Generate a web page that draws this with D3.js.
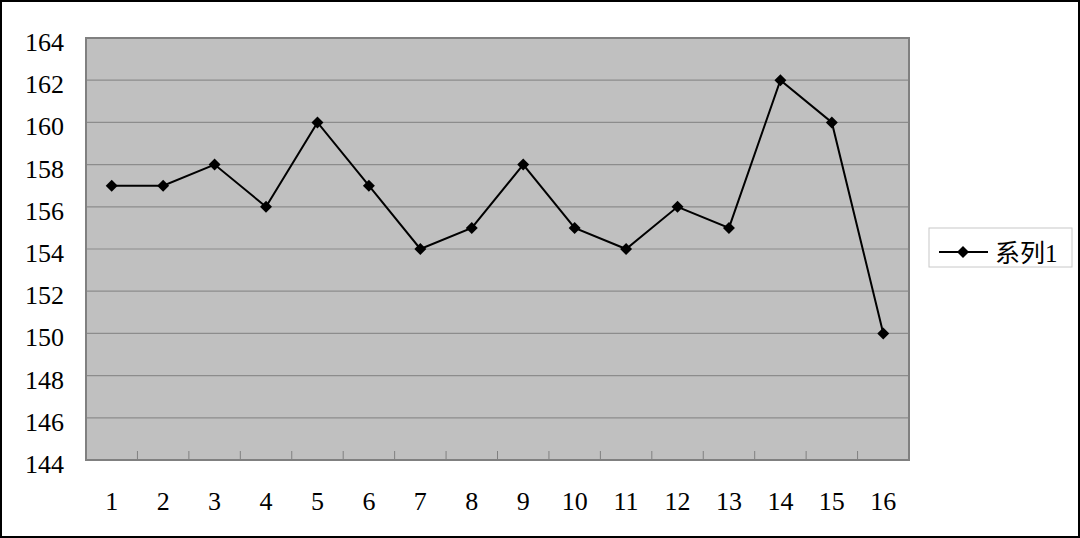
<!DOCTYPE html>
<html lang="en">
<head>
   <meta charset="UTF-8">
   <title>系列1</title>
   <script src="https://d3js.org/d3.v7.min.js"></script>
   <style>
        body { margin: 0; background: #fff; }
    </style>
</head>
<body>
    <div id="chart"></div>
    <script>
        // Data
        const categories = ["1","2","3","4","5","6","7","8","9","10","11","12","13","14","15","16"];
        const values = [157, 157, 158, 156, 160, 157, 154, 155, 158, 155, 154, 156, 155, 162, 160, 150];
        const yTicks = [144, 146, 148, 150, 152, 154, 156, 158, 160, 162, 164];
        const seriesName = "系列1";

        const serif = "'Liberation Serif', 'Times New Roman', serif";
        const cjk = "'Noto Sans CJK SC', sans-serif";

        const width = 1080;
        const height = 538;
        const plot = { left: 86, right: 909, top: 38, bottom: 460 };

        const svg = d3.select("#chart")
            .append("svg")
            .attr("width", width)
            .attr("height", height);

        // outer frame
        svg.append("rect")
            .attr("x", 1).attr("y", 1)
            .attr("width", width - 2).attr("height", height - 2)
            .attr("fill", "#fff")
            .attr("stroke", "#000")
            .attr("stroke-width", 2);

        const x = d3.scaleBand()
            .domain(categories)
            .range([plot.left, plot.right]);

        const y = d3.scaleLinear()
            .domain([144, 164])
            .range([plot.bottom, plot.top]);

        // plot area
        svg.append("rect")
            .attr("x", plot.left).attr("y", plot.top)
            .attr("width", plot.right - plot.left)
            .attr("height", plot.bottom - plot.top)
            .attr("fill", "#c0c0c0");

        // gridlines
        svg.selectAll(".grid")
            .data(yTicks)
            .enter()
            .append("line")
            .attr("x1", plot.left).attr("x2", plot.right)
            .attr("y1", d => y(d)).attr("y2", d => y(d))
            .attr("stroke", "#8c8c8c")
            .attr("stroke-width", 1.2);

        // plot border
        svg.append("rect")
            .attr("x", plot.left).attr("y", plot.top)
            .attr("width", plot.right - plot.left)
            .attr("height", plot.bottom - plot.top)
            .attr("fill", "none")
            .attr("stroke", "#808080")
            .attr("stroke-width", 2);

        // x tick marks at category boundaries
        svg.selectAll(".xtick")
            .data(categories.slice(1))
            .enter()
            .append("line")
            .attr("x1", d => x(d)).attr("x2", d => x(d))
            .attr("y1", plot.bottom).attr("y2", plot.bottom - 9)
            .attr("stroke", "#808080")
            .attr("stroke-width", 1);

        // y labels
        svg.selectAll(".ylab")
            .data(yTicks)
            .enter()
            .append("text")
            .attr("x", 64)
            .attr("y", d => y(d) + 13)
            .attr("text-anchor", "end")
            .attr("font-family", serif)
            .attr("font-size", 26)
            .attr("fill", "#000")
            .text(d => d);

        // x labels
        svg.selectAll(".xlab")
            .data(categories)
            .enter()
            .append("text")
            .attr("x", d => x(d) + x.bandwidth() / 2)
            .attr("y", 510)
            .attr("text-anchor", "middle")
            .attr("font-family", serif)
            .attr("font-size", 26)
            .attr("fill", "#000")
            .text(d => d);

        // series line
        const line = d3.line()
            .x((d, i) => x(categories[i]) + x.bandwidth() / 2)
            .y(d => y(d));

        svg.append("path")
            .datum(values)
            .attr("d", line)
            .attr("fill", "none")
            .attr("stroke", "#000")
            .attr("stroke-width", 2);

        const diamond = d3.symbol().type(d3.symbolSquare).size(72);

        svg.selectAll(".marker")
            .data(values)
            .enter()
            .append("path")
            .attr("d", diamond)
            .attr("transform", (d, i) => `translate(${x(categories[i]) + x.bandwidth() / 2},${y(d)}) rotate(45)`)
            .attr("fill", "#000");

        // legend
        const legend = svg.append("g");
        legend.append("rect")
            .attr("x", 929).attr("y", 228)
            .attr("width", 143).attr("height", 39)
            .attr("fill", "#fff")
            .attr("stroke", "#c8c8c8")
            .attr("stroke-width", 1);
        legend.append("line")
            .attr("x1", 939).attr("x2", 988)
            .attr("y1", 252).attr("y2", 252)
            .attr("stroke", "#000")
            .attr("stroke-width", 2);
        legend.append("path")
            .attr("d", diamond)
            .attr("transform", "translate(963,252) rotate(45)")
            .attr("fill", "#000");
        const legText = legend.append("text")
            .attr("x", 995)
            .attr("y", 262)
            .attr("font-size", 25)
            .attr("fill", "#000");
        legText.append("tspan")
            .attr("font-family", cjk)
            .text(seriesName.slice(0, 2));
        legText.append("tspan")
            .attr("font-family", serif)
            .text(seriesName.slice(2));
    </script>
</body>
</html>
